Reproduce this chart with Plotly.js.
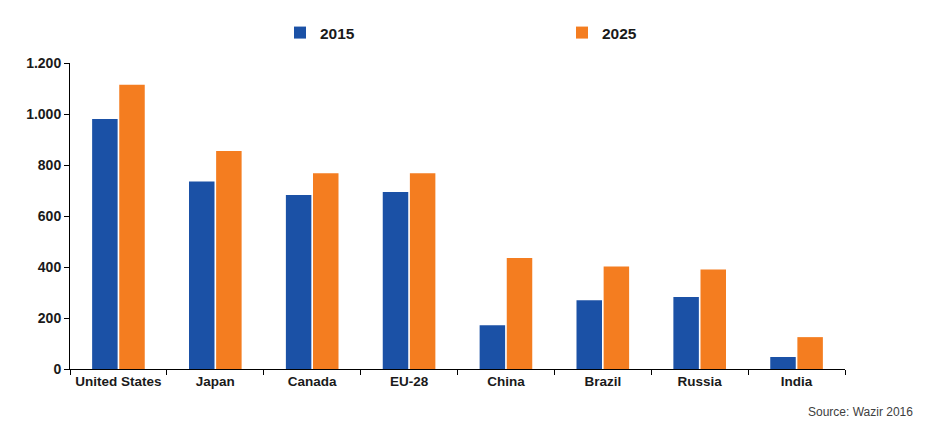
<!DOCTYPE html>
<html>
<head>
<meta charset="utf-8">
<script src="https://cdn.plot.ly/plotly-3.0.1.min.js"></script>
<style>html,body{margin:0;padding:0;background:#fff;}#chart{width:925px;height:434px;}</style>
</head>
<body>
<div id="chart"></div>
<script>
const categories = ["United States", "Japan", "Canada", "EU-28", "China", "Brazil", "Russia", "India"];
const values2015 = [980, 735, 682, 694, 172, 270, 282, 47];
const values2025 = [1115, 855, 768, 768, 435, 402, 390, 125];
const seriesNames = ["2015", "2025"];
const yTicks = [0, 200, 400, 600, 800, 1000, 1200];

const fontFam = "'Liberation Sans', Arial, sans-serif";
const legFont = {family: fontFam, size: 15.5, color: "#1a1a1a", weight: "bold"};
const data = [
  {type: "bar", name: seriesNames[0], x: categories, y: values2015, marker: {color: "#1B51A6"}, legend: "legend"},
  {type: "bar", name: seriesNames[1], x: categories, y: values2025, marker: {color: "#F47D20"}, legend: "legend2"}
];
const layout = {
  width: 925, height: 434,
  paper_bgcolor: "#fff", plot_bgcolor: "#fff",
  margin: {l: 70, r: 80, t: 63, b: 65, autoexpand: false},
  barmode: "group", bargap: 0.44, bargroupgap: 0.06,
  separators: ",.",
  font: {family: fontFam, size: 13, color: "#1a1a1a"},
  showlegend: true,
  legend: {xref: "container", yref: "container", x: 280/925, xanchor: "left", y: 1 - 33/434, yanchor: "middle",
           itemwidth: 30, font: legFont, bgcolor: "rgba(0,0,0,0)"},
  legend2: {xref: "container", yref: "container", x: 562/925, xanchor: "left", y: 1 - 33/434, yanchor: "middle",
           itemwidth: 30, font: legFont, bgcolor: "rgba(0,0,0,0)"},
  xaxis: {type: "category", showline: true, linecolor: "#000", linewidth: 1,
          ticks: "outside", tickson: "boundaries", ticklen: 5, tickcolor: "#000",
          showgrid: false, zeroline: false, tickangle: 0,
          tickfont: {family: fontFam, size: 13.5, color: "#1a1a1a", weight: "bold"}},
  yaxis: {range: [0, 1200], tickvals: yTicks, tickformat: ",d", showline: true, linecolor: "#000", linewidth: 1,
          ticks: "outside", ticklen: 5, tickcolor: "#000", showgrid: false, zeroline: false,
          tickfont: {family: fontFam, size: 14, color: "#1a1a1a", weight: "bold"}},
  annotations: [{text: "Source: Wazir 2016", xref: "paper", yref: "paper", x: 1.09, xanchor: "right",
                 y: -0.14, yanchor: "middle", showarrow: false,
                 font: {family: fontFam, size: 12, color: "#404040"}}]
};
Plotly.newPlot("chart", data, layout, {displayModeBar: false, staticPlot: true});
</script>
</body>
</html>
